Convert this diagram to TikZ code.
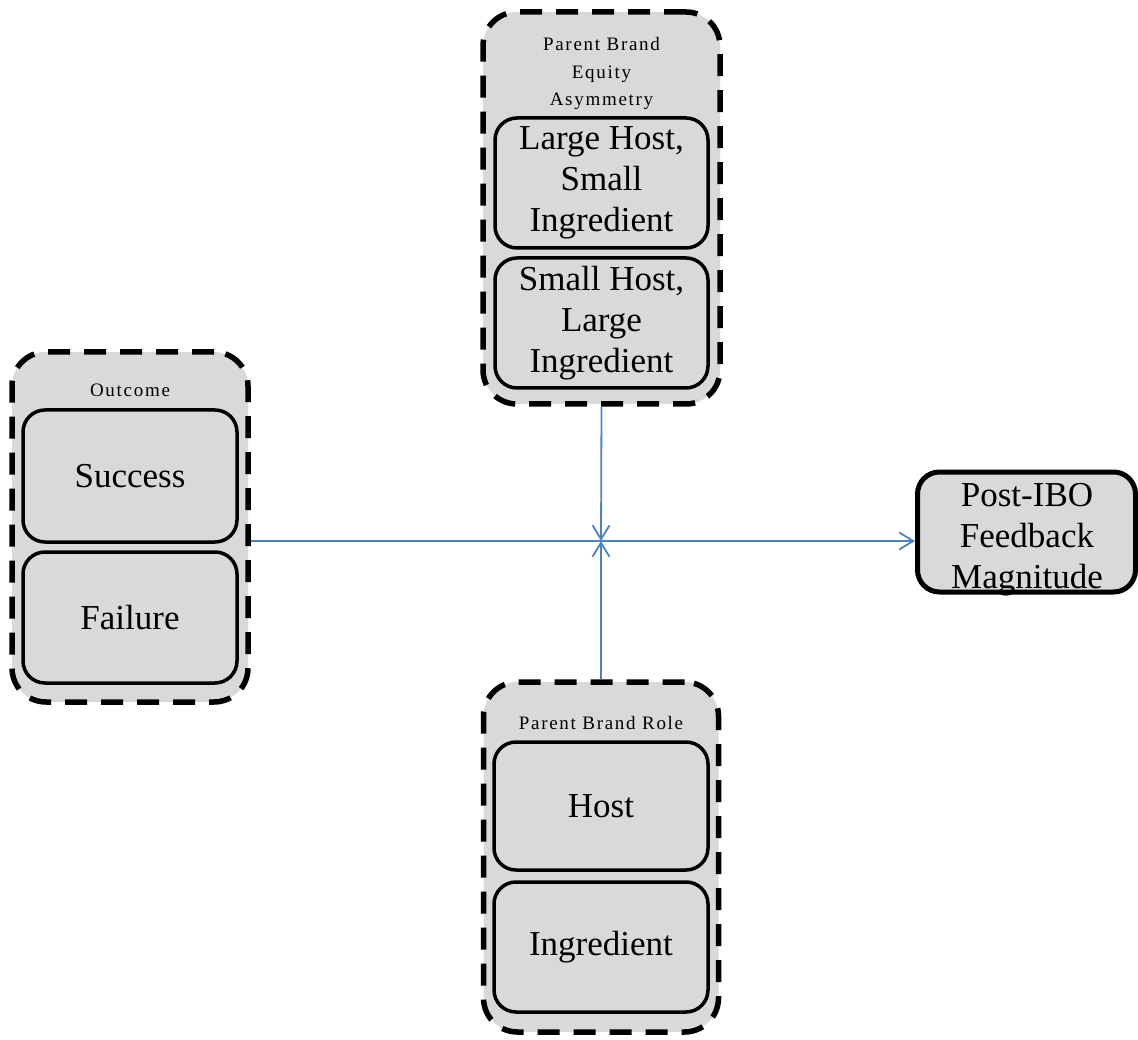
\documentclass[tikz,border=0pt]{standalone}
\usepackage{fontspec}
\setmainfont{Liberation Serif}
\usetikzlibrary{arrows.meta}
\definecolor{boxgray}{HTML}{D9D9D9}
\definecolor{linkblue}{RGB}{79,129,189}
\tikzset{
  group/.style 2 args={draw=black, fill=boxgray, line width=5.5pt,
    dash pattern=on 22pt off 14pt, rounded corners=34pt,
    minimum width=#1, minimum height=#2, inner sep=0pt},
  level/.style 2 args={draw=black, fill=boxgray, line width=3.5pt,
    rounded corners=22pt, minimum width=#1, minimum height=#2,
    inner sep=0pt, align=center, font=\fontsize{35}{41}\selectfont},
  result/.style 2 args={draw=black, fill=boxgray, line width=5pt,
    rounded corners=22pt, minimum width=#1, minimum height=#2,
    inner sep=0pt},
  bigtext/.style={inner sep=0pt, align=center, font=\fontsize{35}{41}\selectfont},
  caption/.style={inner sep=0pt, align=center,
    font=\fontsize{19}{27.5}\selectfont\addfontfeature{LetterSpace=9}},
  link/.style={draw=linkblue, line width=1.8pt,
    -{Straight Barb[length=14pt,width=17pt,line width=1.8pt]}},
}
\begin{document}
\begin{tikzpicture}[x=1pt, y=-1pt]
\useasboundingbox (0,0) rectangle (1138,1040);

% moderator: parent brand equity asymmetry
\node[group={237pt}{392pt}] (asym) at (601.5,208) {};
\node[caption] (asymlab) at (601.5,73.5) {Parent Brand\\Equity\\Asymmetry};
\node[level={213pt}{130pt}] (lhsi) at (601.5,183) {Large Host,\\Small\\Ingredient};
\node[level={213pt}{130pt}] (shli) at (601.5,323) {Small Host,\\Large\\Ingredient};

% predictor: outcome
\node[group={236pt}{350pt}] (outcome) at (130,527) {};
\node[caption] (outlab) at (130,390) {Outcome};
\node[level={214pt}{132pt}] (success) at (130,476) {Success};
\node[level={214pt}{131pt}] (failure) at (130,617.5) {Failure};

% moderator: parent brand role
\node[group={235pt}{350pt}] (role) at (601,857) {};
\node[caption] (rolelab) at (601,723) {Parent Brand Role};
\node[level={214pt}{128pt}] (host) at (601,806) {Host};
\node[level={214pt}{130pt}] (ingr) at (601,947) {Ingredient};

% dependent variable
\node[result={218pt}{120pt}] (feedback) at (1026.5,532) {};
\node[bigtext] (feedbacktext) at (1027,540) {Post-IBO\\Feedback\\Magnitude};

% connectors meeting at one point
\coordinate (J) at (601,541);
\draw[link] (outcome.east |- J) -- (feedback.west |- J);
\draw[link] (asym.south) -- (J);
\draw[link] (role.north) -- (J);
\end{tikzpicture}
\end{document}
